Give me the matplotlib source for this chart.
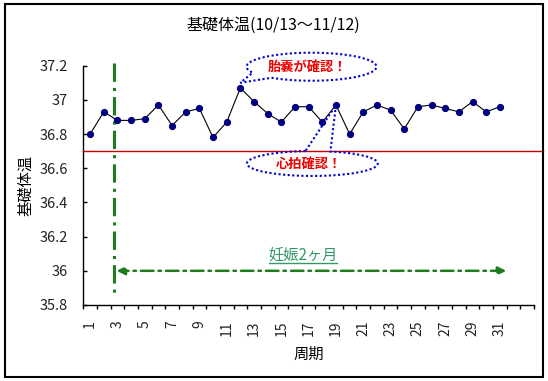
import numpy as np
import matplotlib
matplotlib.use("Agg")
import matplotlib.pyplot as plt
from matplotlib.patches import Rectangle, PathPatch
from matplotlib.path import Path
from matplotlib.lines import Line2D

plt.rcParams['font.family'] = ['Noto Sans CJK JP', 'DejaVu Sans']

# ---- data ----
days = list(range(1, 32))
temps = [36.80, 36.93, 36.88, 36.88, 36.89, 36.97, 36.85, 36.93, 36.95, 36.78,
         36.87, 37.07, 36.99, 36.92, 36.87, 36.96, 36.96, 36.87, 36.97, 36.80,
         36.93, 36.97, 36.94, 36.83, 36.96, 36.97, 36.95, 36.93, 36.99, 36.93,
         36.96]
n_categories = 33
xtick_labels = [str(i) for i in range(1, 32, 2)]
yticks = [35.8, 36.0, 36.2, 36.4, 36.6, 36.8, 37.0, 37.2]
ytick_labels = ['35.8', '36', '36.2', '36.4', '36.6', '36.8', '37', '37.2']
threshold = 36.7
title = '基礎体温(10/13～11/12)'
xlabel = '周期'
ylabel = '基礎体温'
note1 = '胎嚢が確認！'
note2 = '心拍確認！'
note3 = '妊娠2ヶ月'
note1_day, note2_day = 12, 19
preg_start = 2.72
preg_arrow = (2.94, 31.47)
preg_level = 36.0

fig = plt.figure(figsize=(5.48, 3.81), dpi=100)
ax = fig.add_axes([83.3/548, 1 - 305/381, (534 - 83.3)/548, (305 - 65.7)/381])

ax.plot(days, temps, color='black', lw=0.8, marker='o', ms=4.2,
        markerfacecolor='#000080', markeredgecolor='#000080', zorder=5)

ax.set_xlim(0.5, n_categories + 0.5)
ax.set_ylim(35.8, 37.2)

# threshold line extends to the chart border
ax.axhline(threshold, xmin=0, xmax=(543 - 83.3)/(534 - 83.3), color='#CC0000',
           lw=1.0, clip_on=False, zorder=3)

# axes styling
for s in ['top', 'right']:
    ax.spines[s].set_visible(False)
ax.spines['left'].set_linewidth(1.0)
ax.spines['bottom'].set_linewidth(1.0)

ax.set_yticks(yticks)
ax.set_yticklabels(ytick_labels, fontsize=10.5, color='#222222')
ax.tick_params(axis='y', direction='in', length=3, width=1, pad=11)

ax.set_xticks(np.arange(0.5, n_categories + 1, 1.0))
ax.set_xticklabels([])
ax.tick_params(axis='x', which='major', direction='out', length=3, width=1)
ax.set_xticks(list(range(1, 32, 2)), minor=True)
ax.set_xticklabels(xtick_labels, minor=True, rotation=90, fontsize=10,
                   color='#222222', va='top', ha='center')
ax.tick_params(axis='x', which='minor', length=0, pad=11)

ax.set_xlabel(xlabel, fontsize=11, labelpad=7)
ax.set_ylabel(ylabel, fontsize=11, labelpad=4)
fig.text(273/548, 1 - 25/381, title, fontsize=11.5, ha='center', va='center')

# pregnancy marker line and arrow
ax.plot([preg_start, preg_start], [37.214, 35.87], color='#1E7B1E', lw=2.2,
        ls=(0, (6, 2, 1, 2)), clip_on=False, zorder=4)
ax.annotate('', xy=(preg_arrow[0], preg_level), xytext=(preg_arrow[1], preg_level),
            arrowprops=dict(arrowstyle='<|-|>', color='#1E7B1E', lw=1.8,
                            ls=(0, (5, 2, 1, 2)), mutation_scale=12,
                            shrinkA=0, shrinkB=0))
t3 = ax.text(16.6, 36.09, note3, fontsize=11, style='italic', color='#339966',
             ha='center', va='center')


def callout(cx, cy, w, h, apex, gap):
    a0, a1 = np.radians(gap[1]), np.radians(gap[0] + 360)
    th = np.linspace(a0, a1, 120)
    xs = cx + w/2*np.cos(th)
    ys = cy + h/2*np.sin(th)
    verts = list(zip(xs, ys)) + [apex, (xs[0], ys[0])]
    codes = [Path.MOVETO] + [Path.LINETO]*(len(verts) - 1)
    p = PathPatch(Path(verts, codes), facecolor='none', edgecolor='#0000CC',
                  lw=1.5, ls=(0, (1, 1.2)), clip_on=False, zorder=6)
    ax.add_patch(p)


callout(17.21, 37.194, 9.51, 0.164, (note1_day, 37.10), (205, 232))
ax.text(16.9, 37.194, note1, color='#EE0000', fontsize=9.5, fontweight='bold',
        ha='center', va='center', zorder=7)
callout(17.27, 36.628, 9.58, 0.146, (note2_day, temps[note2_day - 1]), (74, 96))
ax.text(17.0, 36.625, note2, color='#EE0000', fontsize=9.5, fontweight='bold',
        ha='center', va='center', zorder=7)

# chart border
fig.patches.append(Rectangle((5/548, 4/381), 538/548, 373/381,
                             transform=fig.transFigure, fill=False,
                             edgecolor='black', lw=1.5))

# underline for note3
fig.canvas.draw()
bb = t3.get_window_extent(fig.canvas.get_renderer())
inv = fig.transFigure.inverted()
(x0, y0) = inv.transform((bb.x0 + 1, bb.y0 + 1))
(x1, _) = inv.transform((bb.x1 - 1, bb.y0 + 1))
fig.add_artist(Line2D([x0, x1], [y0, y0], transform=fig.transFigure,
                      color='#339966', lw=1.0))

fig.savefig('out.png', dpi=100)
